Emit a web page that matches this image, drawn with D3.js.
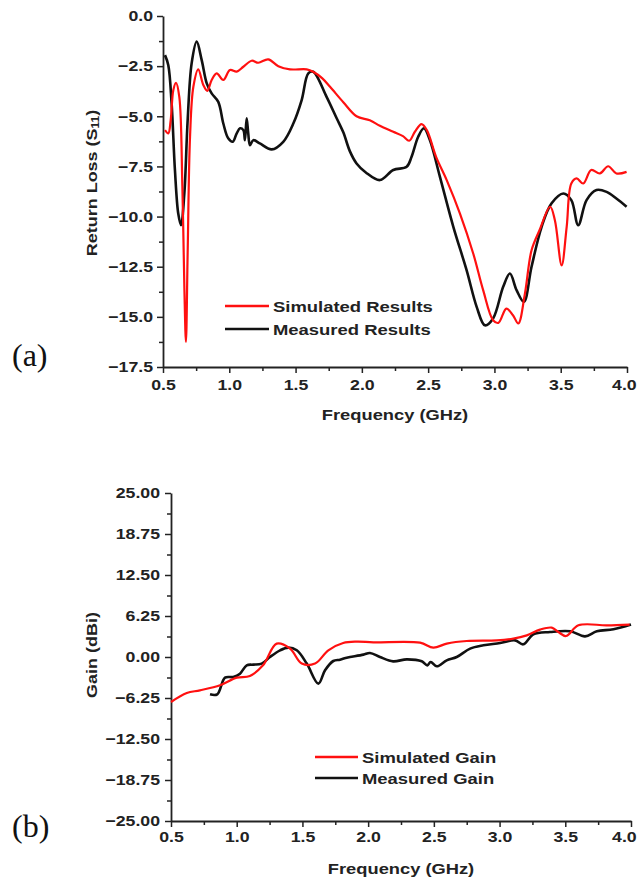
<!DOCTYPE html>
<html><head><meta charset="utf-8">
<script src="https://cdn.jsdelivr.net/npm/d3@7/dist/d3.min.js"></script>
<style>body{margin:0;background:#fff}svg{display:block}</style>
</head><body><svg id="c" width="640" height="881"></svg>
<script>
// ---- Data: (a) Return loss ----
const simRL_f = [0.515,0.54,0.558,0.578,0.598,0.623,0.646,0.661,0.673,0.686,0.704,0.729,0.766,0.804,0.834,0.867,0.905,0.955,1.005,1.056,1.106,1.169,1.219,1.294,1.37,1.458,1.584,1.633,1.70,1.76,1.86,1.96,2.06,2.136,2.237,2.31,2.357,2.40,2.45,2.49,2.56,2.64,2.74,2.84,2.915,2.99,3.03,3.09,3.14,3.18,3.23,3.28,3.34,3.42,3.456,3.507,3.545,3.58,3.62,3.67,3.73,3.795,3.858,3.92,3.997];
const simRL_v = [-5.69,-5.85,-5.19,-3.69,-3.33,-4.03,-8.5,-13.5,-16.25,-11.8,-6.0,-3.53,-2.66,-3.44,-3.73,-3.19,-2.86,-3.19,-2.69,-2.77,-2.53,-2.23,-2.33,-2.16,-2.5,-2.66,-2.66,-2.78,-3.1,-3.53,-4.3,-5.0,-5.2,-5.47,-5.77,-5.99,-6.22,-5.77,-5.39,-5.69,-7.02,-8.18,-9.85,-11.84,-13.67,-15.17,-15.3,-14.59,-14.92,-15.33,-13.84,-11.68,-10.68,-9.51,-10.18,-12.43,-10.51,-8.35,-8.1,-8.35,-7.68,-7.85,-7.49,-7.85,-7.77];
const meaRL_f = [0.515,0.54,0.565,0.59,0.615,0.636,0.661,0.686,0.716,0.754,0.792,0.83,0.867,0.917,0.955,0.992,1.026,1.056,1.081,1.106,1.118,1.131,1.143,1.156,1.181,1.23,1.32,1.407,1.483,1.546,1.596,1.633,1.734,1.81,1.86,1.91,1.96,2.03,2.136,2.237,2.338,2.375,2.425,2.468,2.513,2.589,2.69,2.79,2.866,2.928,2.99,3.066,3.117,3.167,3.222,3.28,3.356,3.43,3.52,3.58,3.632,3.695,3.77,3.846,3.92,3.997];
const meaRL_v = [-1.95,-2.45,-4.36,-7.68,-9.85,-10.43,-8.85,-5.19,-2.36,-1.28,-2.2,-3.36,-3.86,-4.28,-5.36,-6.1,-6.27,-5.85,-5.6,-5.69,-6.19,-5.1,-5.85,-6.44,-6.19,-6.35,-6.65,-6.27,-5.36,-4.19,-2.86,-2.78,-4.03,-5.1,-5.8,-6.75,-7.35,-7.8,-8.18,-7.68,-7.52,-7.02,-6.02,-5.6,-6.19,-8.02,-10.51,-12.67,-14.5,-15.42,-15.08,-13.5,-12.84,-13.67,-14.25,-12.5,-10.51,-9.35,-8.85,-9.18,-10.43,-9.18,-8.68,-8.77,-9.1,-9.51];
const rlTicks = [0.0,-2.5,-5.0,-7.5,-10.0,-12.5,-15.0,-17.5];
const freqTicks = [0.5,1.0,1.5,2.0,2.5,3.0,3.5,4.0];
// ---- Data: (b) Gain ----
const simG_f = [0.5,0.62,0.72,0.873,1.0,1.10,1.2,1.304,1.406,1.495,1.596,1.697,1.81,1.913,2.04,2.395,2.496,2.598,2.75,2.979,3.105,3.207,3.308,3.397,3.447,3.506,3.6,3.816,3.99];
const simG_v = [-6.86,-5.49,-5.08,-4.3,-3.15,-2.9,-1.27,2.04,1.28,-1.0,-1.0,1.02,2.13,2.34,2.24,2.19,1.43,2.04,2.44,2.54,2.8,3.3,4.18,4.48,3.81,3.2,4.83,4.83,4.94];
const meaG_f = [0.797,0.852,0.911,0.974,1.025,1.076,1.126,1.19,1.253,1.33,1.393,1.457,1.533,1.621,1.672,1.735,1.786,1.837,1.862,1.964,2.014,2.09,2.19,2.294,2.408,2.45,2.476,2.522,2.598,2.674,2.776,2.877,3.004,3.118,3.18,3.257,3.384,3.537,3.65,3.74,3.866,4.0];
const meaG_v = [-5.69,-5.69,-3.15,-3.05,-2.54,-1.27,-1.16,-1.01,0,1.02,1.43,1.02,-1.0,-4.06,-2.03,-0.61,-0.41,-0.1,0,0.36,0.61,0,-0.66,-0.36,-0.66,-1.27,-0.76,-1.42,-0.51,0,1.28,1.78,2.13,2.54,1.93,3.46,3.81,3.92,3.15,3.92,4.22,4.94];
const gainTicks = [25,18.75,12.5,6.25,0,-6.25,-12.5,-18.75,-25];

const FONT = '"Liberation Sans",Arial,sans-serif';
const INK = "#222";
const SX = 1.18; // horizontal stretch of the reference's lettering
const svg = d3.select("#c");
const zip = (a,b)=>a.map((x,i)=>[x,b[i]]);

function stext(parent,x,y,str,opts={}){
  const t = parent.append("text")
    .attr("transform",`translate(${x},${y}) ${opts.rot?`rotate(${opts.rot})`:""} scale(${opts.sx||SX},1)`)
    .attr("text-anchor",opts.anchor||"start")
    .style("font-family",FONT).style("font-weight","bold").style("font-size",(opts.size||15)+"px").style("fill",INK);
  if(str!==null) t.text(str);
  return t;
}

function panel(o){
  const x = d3.scaleLinear().domain([0.5,4.0]).range([o.x0,o.x1]);
  const y = d3.scaleLinear().domain(o.ydom).range([o.y1,o.y0]);
  const g = svg.append("g");
  const xMinor = d3.range(0.75,4.0,0.5);
  g.append("g").attr("transform",`translate(0,${o.y1})`)
    .call(d3.axisBottom(x).tickValues(xMinor).tickSize(4).tickFormat(""))
    .call(s=>s.select(".domain").remove()).selectAll("line").attr("stroke",INK).attr("stroke-width",1.5);
  g.append("g").attr("transform",`translate(${o.x0},0)`)
    .call(d3.axisLeft(y).tickValues(o.yMinor).tickSize(4).tickFormat(""))
    .call(s=>s.select(".domain").remove()).selectAll("line").attr("stroke",INK).attr("stroke-width",1.5);
  const xa = g.append("g").attr("transform",`translate(0,${o.y1})`)
    .call(d3.axisBottom(x).tickValues(freqTicks).tickSize(6).tickSizeOuter(0).tickFormat(d3.format(".1f")));
  xa.selectAll("text").attr("y",o.xlabY).attr("dy","0.71em")
    .attr("x",d=>(x(d)+12*SX>638 ? (638-12*SX-x(d)) : 0)/SX)
    .attr("transform",`scale(${SX},1)`)
    .style("font-size","15px").style("font-weight","bold").style("fill",INK).style("font-family",FONT);
  const ya = g.append("g").attr("transform",`translate(${o.x0},0)`)
    .call(d3.axisLeft(y).tickValues(o.yticks).tickSize(6).tickSizeOuter(0).tickFormat(d3.format(o.yfmt)));
  ya.selectAll("text").attr("x",-o.ylabGap/SX).attr("transform",`scale(${SX},1)`)
    .style("font-size","15px").style("font-weight","bold").style("fill",INK).style("font-family",FONT);
  [xa,ya].forEach(a=>{a.select(".domain").attr("stroke",INK).attr("stroke-width",1.8);a.selectAll("line").attr("stroke",INK).attr("stroke-width",1.5);});
  const line = d3.line().x(d=>x(d[0])).y(d=>y(d[1])).curve(d3.curveCatmullRom.alpha(0.5));
  g.append("path").datum(o.s2).attr("d",line).attr("fill","none").attr("stroke","#111").attr("stroke-width",2.6);
  g.append("path").datum(o.s1).attr("d",line).attr("fill","none").attr("stroke","#ff1010").attr("stroke-width",2.2);
  const L = o.leg;
  [[o.names[0],"#ff1010",0],[o.names[1],"#111",L.dy]].forEach(([t,c,dy])=>{
    g.append("line").attr("x1",L.x).attr("x2",L.x+L.w).attr("y1",L.y+dy).attr("y2",L.y+dy).attr("stroke",c).attr("stroke-width",2.6);
    stext(g,L.x+L.w+4,L.y+dy+5.5,t,{sx:1.23});
  });
  stext(g,(o.x0+o.x1)/2,o.y1+o.titleDy,"Frequency (GHz)",{anchor:"middle",sx:1.22});
  return {x,y,g};
}

const a = panel({x0:163,x1:627,y0:16,y1:367,ydom:[-17.5,0],yticks:rlTicks,yMinor:d3.range(-16.25,0,2.5),yfmt:".1f",
  s1:zip(simRL_f,simRL_v),s2:zip(meaRL_f,meaRL_v),names:["Simulated Results","Measured Results"],
  leg:{x:225,y:306,w:44,dy:23},xlabY:12,ylabGap:10,titleDy:53});
const ta = stext(a.g,97,183,null,{rot:-90,anchor:"middle",sx:1.2});
ta.append("tspan").text("Return Loss (S");
ta.append("tspan").style("font-size","10px").attr("dy",2).text("11");
ta.append("tspan").attr("dy",-2).text(")");

const b = panel({x0:171,x1:631,y0:493,y1:821,ydom:[-25,25],yticks:gainTicks,yMinor:d3.range(-21.875,25,6.25),yfmt:".2f",
  s1:zip(simG_f,simG_v),s2:zip(meaG_f,meaG_v),names:["Simulated Gain","Measured Gain"],
  leg:{x:315,y:757,w:43,dy:21},xlabY:10,ylabGap:11,titleDy:53});
stext(b.g,97,655,"Gain (dBi)",{rot:-90,anchor:"middle",sx:1.2});

[["(a)",366],["(b)",837]].forEach(([t,yy])=>{
  svg.append("text").attr("x",12).attr("y",yy).style("font-family",'"Liberation Serif","Times New Roman",serif')
    .style("font-weight","normal").style("font-size","32px").style("fill","#111").text(t);
});
</script></body></html>
